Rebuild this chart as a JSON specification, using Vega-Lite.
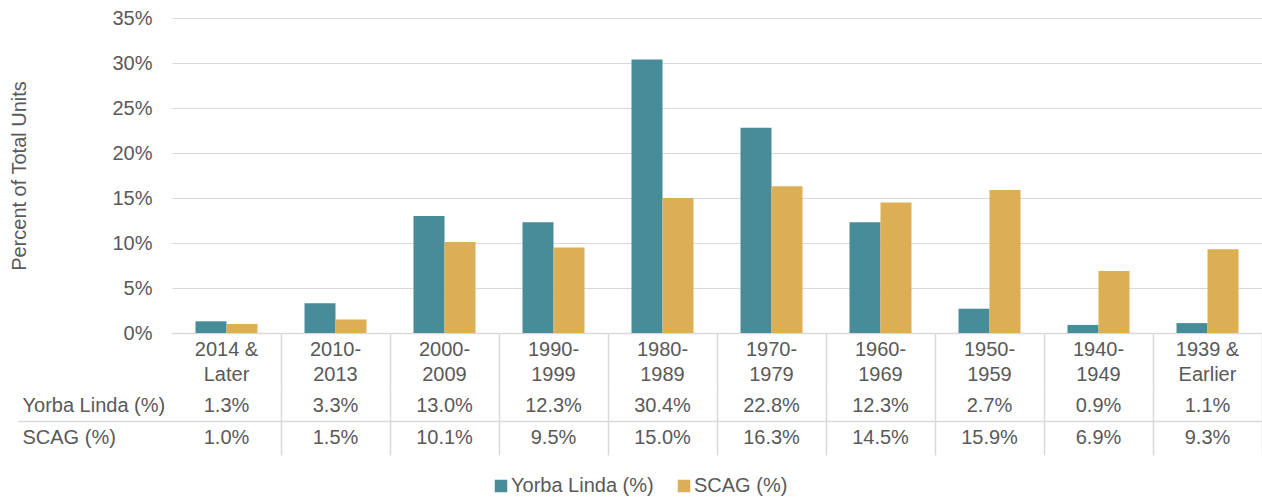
{
  "$schema": "https://vega.github.io/schema/vega-lite/v6.json",
  "padding": {"left": 9, "top": 8, "right": 0, "bottom": 0},
  "background": "white",
  "spacing": 0,
  "bounds": "flush",
  "config": {
    "font": "Liberation Sans",
    "view": {"stroke": null},
    "concat": {"spacing": 0},
    "axis": {"labelColor": "#595959", "titleColor": "#595959", "labelFontSize": 20, "labelFont": "Liberation Sans", "titleFont": "Liberation Sans"},
    "text": {"font": "Liberation Sans", "fontSize": 20, "color": "#595959"},
    "legend": {"labelFont": "Liberation Sans"}
  },
  "data": {"values": [
    {"period": "2014 &\nLater", "series": "Yorba Linda (%)", "value": 1.3},
    {"period": "2010-\n2013", "series": "Yorba Linda (%)", "value": 3.3},
    {"period": "2000-\n2009", "series": "Yorba Linda (%)", "value": 13.0},
    {"period": "1990-\n1999", "series": "Yorba Linda (%)", "value": 12.3},
    {"period": "1980-\n1989", "series": "Yorba Linda (%)", "value": 30.4},
    {"period": "1970-\n1979", "series": "Yorba Linda (%)", "value": 22.8},
    {"period": "1960-\n1969", "series": "Yorba Linda (%)", "value": 12.3},
    {"period": "1950-\n1959", "series": "Yorba Linda (%)", "value": 2.7},
    {"period": "1940-\n1949", "series": "Yorba Linda (%)", "value": 0.9},
    {"period": "1939 &\nEarlier", "series": "Yorba Linda (%)", "value": 1.1},
    {"period": "2014 &\nLater", "series": "SCAG (%)", "value": 1.0},
    {"period": "2010-\n2013", "series": "SCAG (%)", "value": 1.5},
    {"period": "2000-\n2009", "series": "SCAG (%)", "value": 10.1},
    {"period": "1990-\n1999", "series": "SCAG (%)", "value": 9.5},
    {"period": "1980-\n1989", "series": "SCAG (%)", "value": 15.0},
    {"period": "1970-\n1979", "series": "SCAG (%)", "value": 16.3},
    {"period": "1960-\n1969", "series": "SCAG (%)", "value": 14.5},
    {"period": "1950-\n1959", "series": "SCAG (%)", "value": 15.9},
    {"period": "1940-\n1949", "series": "SCAG (%)", "value": 6.9},
    {"period": "1939 &\nEarlier", "series": "SCAG (%)", "value": 9.3}
  ]},
  "vconcat": [
    {
      "width": 1090,
      "height": 315,
      "mark": {"type": "bar"},
      "encoding": {
        "x": {"field": "period", "type": "nominal", "sort": null,
          "scale": {"paddingInner": 0, "paddingOuter": 0},
          "axis": {"title": null, "labels": false, "ticks": false, "domainColor": "#d9d9d9", "domainWidth": 1.5}},
        "xOffset": {"field": "series", "type": "nominal",
          "scale": {"domain": ["Yorba Linda (%)", "SCAG (%)"], "paddingInner": 0, "paddingOuter": 0.758}},
        "y": {"field": "value", "type": "quantitative",
          "scale": {"domain": [0, 35], "nice": false},
          "axis": {"values": [0, 5, 10, 15, 20, 25, 30, 35], "labelExpr": "datum.value + '%'",
            "title": "Percent of Total Units", "titleFontSize": 20, "titleFontWeight": "normal", "titlePadding": 82,
            "domain": false, "ticks": false, "labelPadding": 20, "gridColor": "#d9d9d9"}},
        "color": {"field": "series", "type": "nominal",
          "scale": {"domain": ["Yorba Linda (%)", "SCAG (%)"], "range": ["#488b99", "#dcae56"]},
          "legend": {"title": null, "orient": "none", "legendX": 319, "legendY": 458, "direction": "horizontal",
            "symbolType": "square", "symbolSize": 156, "symbolStrokeWidth": 0, "labelFontSize": 20, "labelColor": "#595959",
            "columnPadding": 20, "labelOffset": 0}}
      }
    },
    {
      "width": 1090,
      "height": 57,
      "transform": [{"filter": "datum.series === 'Yorba Linda (%)'"}],
      "mark": {"type": "text", "lineBreak": "\n", "lineHeight": 25, "baseline": "middle", "dy": -12, "fontSize": 20},
      "encoding": {
        "x": {"field": "period", "type": "nominal", "sort": null,
          "scale": {"type": "band", "paddingInner": 0, "paddingOuter": 0},
          "axis": {"title": null, "labels": false, "ticks": false, "domain": false, "grid": true, "bandPosition": 1, "gridColor": "#d9d9d9", "gridWidth": 1.5}},
        "text": {"field": "period"}
      }
    },
    {
      "width": 1090,
      "height": 31,
      "transform": [{"filter": "datum.series === 'Yorba Linda (%)'"}, {"calculate": "format(datum.value, '.1f') + '%'", "as": "label"}],
      "mark": {"type": "text", "baseline": "middle", "fontSize": 20},
      "encoding": {
        "x": {"field": "period", "type": "nominal", "sort": null,
          "scale": {"type": "band", "paddingInner": 0, "paddingOuter": 0},
          "axis": {"title": null, "labels": false, "ticks": false, "domain": false, "grid": true, "bandPosition": 1, "gridColor": "#d9d9d9", "gridWidth": 1.5}},
        "y": {"field": "series", "type": "nominal",
          "scale": {"type": "band", "paddingInner": 0, "paddingOuter": 0},
          "axis": {"title": null, "ticks": false, "domain": false, "labelAlign": "left", "labelPadding": 150, "labelFontSize": 20}},
        "text": {"field": "label"}
      }
    },
    {
      "width": 1090,
      "height": 34,
      "transform": [{"filter": "datum.series === 'SCAG (%)'"}, {"calculate": "format(datum.value, '.1f') + '%'", "as": "label"}],
      "mark": {"type": "text", "baseline": "middle", "fontSize": 20},
      "encoding": {
        "x": {"field": "period", "type": "nominal", "sort": null,
          "scale": {"type": "band", "paddingInner": 0, "paddingOuter": 0},
          "axis": {"orient": "top", "title": null, "labels": false, "ticks": false, "domain": true, "domainColor": "#d9d9d9", "domainWidth": 1.5, "grid": true, "bandPosition": 1, "gridColor": "#d9d9d9", "gridWidth": 1.5}},
        "y": {"field": "series", "type": "nominal",
          "scale": {"type": "band", "paddingInner": 0, "paddingOuter": 0},
          "axis": {"title": null, "ticks": true, "tickSize": 154, "tickColor": "#d9d9d9", "tickWidth": 1.5, "bandPosition": 0, "domain": false, "labelAlign": "left", "labelPadding": -4, "labelFontSize": 20}},
        "text": {"field": "label"}
      }
    }
  ]
}
